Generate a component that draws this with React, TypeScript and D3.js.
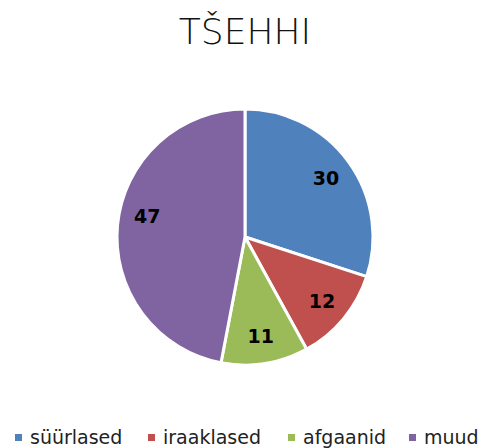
import React from "react";
import * as d3 from "d3";

const categories = ["süürlased", "iraaklased", "afgaanid", "muud"];
const values = [30, 12, 11, 47];
const colors = ["#4F81BD", "#C0504D", "#9BBB59", "#8064A2"];
const title = "TŠEHHI";

const W = 484;
const H = 448;
const cx = 245;
const cy = 237;
const R = 128;
const legendX = [15, 148, 288, 409];

export default function App() {
  const pie = d3.pie<number>().sort(null).value((d) => d)(values);
  const arc = d3.arc<d3.PieArcDatum<number>>().innerRadius(0).outerRadius(R);
  const labelR = 100;
  return (
    <svg width={W} height={H} style={{ position: "absolute", left: 0, top: 0, background: "#fff" }}>
      <text x={cx} y={44} textAnchor="middle" fontFamily="DejaVu Sans" fontWeight={300} fontSize={36} fill="#111">
        {title}
      </text>
      <g transform={`translate(${cx},${cy})`}>
        {pie.map((p, i) => (
          <path key={i} d={arc(p) || ""} fill={colors[i]} stroke="#fff" strokeWidth={3} strokeLinejoin="round" />
        ))}
        {pie.map((p, i) => {
          let a = (p.startAngle + p.endAngle) / 2;
          if (p.endAngle - p.startAngle > Math.PI * 0.8) a += 0.12;
          const x = Math.sin(a) * labelR;
          const y = -Math.cos(a) * labelR;
          return (
            <text key={i} x={x} y={y} dy="0.36em" textAnchor="middle" fontFamily="DejaVu Sans" fontWeight="bold" fontSize={19} fill="#000">
              {values[i]}
            </text>
          );
        })}
      </g>
      {categories.map((c, i) => (
        <g key={c}>
          <rect x={legendX[i]} y={434} width={7} height={7} fill={colors[i]} />
          <text x={legendX[i] + 15} y={444} fontFamily="DejaVu Sans" fontSize={19} fill="#222">
            {c}
          </text>
        </g>
      ))}
    </svg>
  );
}
